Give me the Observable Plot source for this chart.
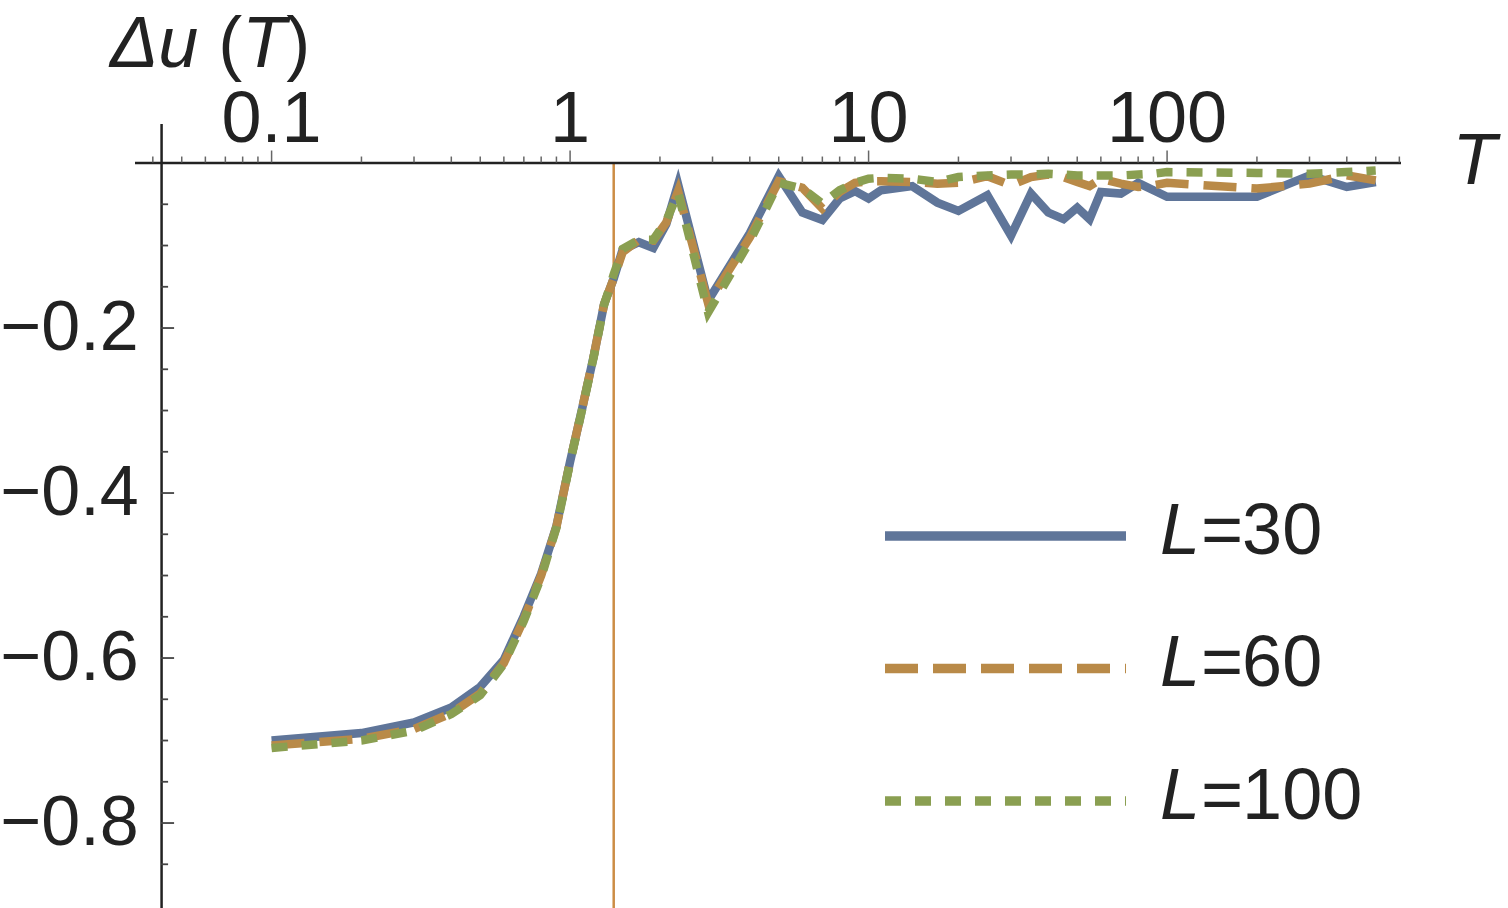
<!DOCTYPE html>
<html>
<head>
<meta charset="utf-8">
<script src="https://cdn.jsdelivr.net/npm/d3@7"></script>
<script src="https://cdn.jsdelivr.net/npm/@observablehq/plot@0.6"></script>
<style>
html,body{margin:0;padding:0;background:#fff;}
#wrap{position:relative;width:1508px;height:908px;overflow:hidden;}
</style>
</head>
<body>
<div id="wrap"></div>
<script>
// ---------- data ----------
const T = [0.1,0.2,0.3,0.4,0.5,0.6,0.7,0.8,0.9,1.0,1.1,1.2,1.3,1.4,1.5,1.7,1.9,2.1,2.3,2.9,4,5,6,7,8,9,10,11,14,17,20,25,30,35,40,45,50,55,60,70,80,90,100,200,300,400,500];
const uL30 = [-0.700,-0.691,-0.678,-0.660,-0.635,-0.602,-0.549,-0.498,-0.440,-0.362,-0.296,-0.234,-0.171,-0.140,-0.105,-0.096,-0.103,-0.074,-0.026,-0.167,-0.085,-0.016,-0.060,-0.069,-0.043,-0.034,-0.043,-0.033,-0.028,-0.048,-0.058,-0.039,-0.088,-0.037,-0.060,-0.068,-0.054,-0.068,-0.035,-0.037,-0.024,-0.033,-0.041,-0.041,-0.015,-0.029,-0.023];
const uL60 = [-0.706,-0.698,-0.686,-0.667,-0.643,-0.606,-0.553,-0.500,-0.441,-0.362,-0.296,-0.234,-0.171,-0.140,-0.108,-0.093,-0.094,-0.072,-0.034,-0.170,-0.090,-0.022,-0.030,-0.055,-0.035,-0.024,-0.022,-0.022,-0.023,-0.025,-0.024,-0.016,-0.027,-0.017,-0.014,-0.017,-0.023,-0.028,-0.019,-0.025,-0.029,-0.027,-0.024,-0.031,-0.025,-0.015,-0.021];
const uL100 = [-0.709,-0.700,-0.688,-0.668,-0.645,-0.607,-0.555,-0.502,-0.442,-0.363,-0.297,-0.235,-0.172,-0.135,-0.104,-0.093,-0.093,-0.070,-0.036,-0.181,-0.095,-0.024,-0.031,-0.049,-0.033,-0.024,-0.019,-0.018,-0.019,-0.023,-0.017,-0.015,-0.014,-0.014,-0.013,-0.014,-0.015,-0.015,-0.015,-0.015,-0.014,-0.013,-0.011,-0.012,-0.013,-0.011,-0.009];
const seriesNames = ["30","60","100"];
const Tc = 1.4;
const xMajor = [0.1, 1, 10, 100];
const xLabels = ["0.1", "1", "10", "100"];
const xMinor = [0.04,0.05,0.06,0.07,0.08,0.09,0.2,0.3,0.4,0.5,0.6,0.7,0.8,0.9,2,3,4,5,6,7,8,9,20,30,40,50,60,70,80,90,200,300,400,500,600];
const yMajor = [-0.2, -0.4, -0.6, -0.8];
const yLabels = ["\u22120.2", "\u22120.4", "\u22120.6", "\u22120.8"];
const yMinor = [-0.05,-0.1,-0.15,-0.25,-0.3,-0.35,-0.45,-0.5,-0.55,-0.65,-0.7,-0.75,-0.85];

// ---------- style ----------
const colors = ["#5f7599", "#b98a48", "#8a9f51"];
const dashes = [null, "33,15", "16,14"];
const tcColor = "#cc8d45";
const FONT = "'Liberation Sans', Arial, Helvetica, sans-serif";
const W = 1508, H = 908;
const xDomain = [0.035, 610], xRange = [135, 1401];
const yDomain = [-0.9036, 0.0467], yRange = [908, 124];
const yAxisT = 0.0428; // axes origin (T where the vertical axis sits)
const pxPerDecade = (xRange[1] - xRange[0]) / Math.log10(xDomain[1] / xDomain[0]);
const xOff = px => Math.pow(10, px / pxPerDecade);
const yPerPx = (yDomain[1] - yDomain[0]) / (yRange[0] - yRange[1]);

const series = [uL30, uL60, uL100].map((u, k) => T.map((t, i) => ({T: t, u: u[i], L: seriesNames[k]})));
const xTickTable = xMajor.map((v, i) => ({v, label: xLabels[i]}));
const yTickTable = yMajor.map((v, i) => ({v, label: yLabels[i]}));

const chart = Plot.plot({
  width: W, height: H,
  marginTop: 0, marginRight: 0, marginBottom: 0, marginLeft: 0,
  style: {fontFamily: FONT, background: "#fff", overflow: "visible"},
  x: {type: "log", domain: xDomain, range: xRange, axis: null},
  y: {domain: yDomain, range: yRange, axis: null},
  marks: [
    Plot.ruleX([Tc], {y1: () => 0, y2: () => yDomain[0], stroke: tcColor, strokeWidth: 2.5}),
    ...series.map((d, k) => Plot.line(d, {
      x: "T", y: "u", stroke: colors[k], strokeWidth: 8.5,
      strokeDasharray: dashes[k] ?? undefined,
      strokeLinecap: "butt", strokeLinejoin: "miter", strokeMiterlimit: 4
    })),
    // axes
    Plot.ruleY([0], {x1: () => xDomain[0], x2: () => xDomain[1], stroke: "#222", strokeWidth: 2.5}),
    Plot.ruleX([yAxisT], {y1: () => yDomain[0], y2: () => yDomain[1], stroke: "#222", strokeWidth: 2.5}),
    Plot.ruleX(xMajor, {y1: () => 0, y2: () => 12 * yPerPx, stroke: "#666", strokeWidth: 1.5}),
    Plot.ruleX(xMinor, {y1: () => 0, y2: () => 6 * yPerPx, stroke: "#666", strokeWidth: 1.5}),
    Plot.ruleY(yMajor, {x1: () => yAxisT, x2: () => yAxisT * xOff(13), stroke: "#444", strokeWidth: 1.8}),
    Plot.ruleY(yMinor, {x1: () => yAxisT, x2: () => yAxisT * xOff(7), stroke: "#444", strokeWidth: 1.8}),
    Plot.text(xTickTable, {x: "v", y: () => 0, text: "label", dy: -21, lineAnchor: "bottom", textAnchor: "middle", fontSize: 72, fill: "#222"}),
    Plot.text(yTickTable, {x: () => yAxisT, y: "v", text: "label", dx: -23, lineAnchor: "middle", textAnchor: "end", fontSize: 70, fill: "#222"}),
    Plot.text(["T"], {x: () => xDomain[1], y: () => 0, text: d => d, dx: 51, dy: 21, lineAnchor: "bottom", textAnchor: "start", fontSize: 72, fontStyle: "italic", fill: "#222"})
  ]
});
document.getElementById("wrap").appendChild(chart);

// ---------- title and legend (inside the chart svg) ----------
const svg = d3.select(chart);
const title = svg.append("text")
  .attr("x", 110).attr("y", 67).attr("text-anchor", "start")
  .attr("font-size", 72).attr("font-family", FONT).attr("fill", "#222");
title.append("tspan").attr("font-style", "italic").text("\u0394u");
title.append("tspan").text(" (");
title.append("tspan").attr("font-style", "italic").text("T");
title.append("tspan").text(")");

const leg = svg.append("g").attr("transform", "translate(885,536)");
seriesNames.forEach((name, k) => {
  const g = leg.append("g").attr("transform", `translate(0,${k * 132.5})`);
  g.append("line").attr("x1", 0).attr("x2", 241).attr("y1", 0).attr("y2", 0)
    .attr("stroke", colors[k]).attr("stroke-width", 9.5)
    .attr("stroke-dasharray", dashes[k]).attr("stroke-linecap", "butt");
  const t = g.append("text").attr("x", 275).attr("y", 17.5).attr("text-anchor", "start")
    .attr("font-size", 72).attr("font-family", FONT).attr("fill", "#222");
  t.append("tspan").attr("font-style", "italic").text("L=");
  t.append("tspan").text(name);
});
</script>
</body>
</html>
